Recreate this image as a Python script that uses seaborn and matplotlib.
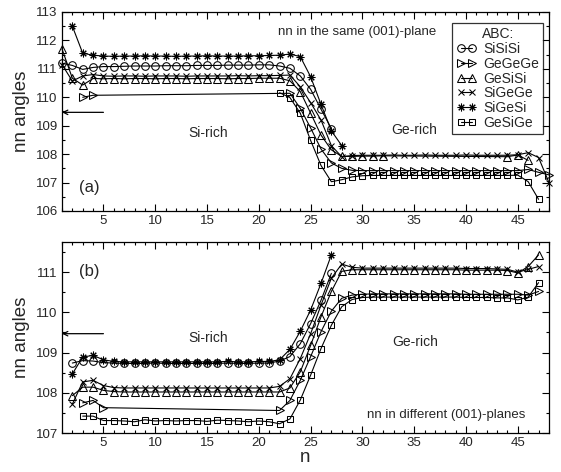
import matplotlib
matplotlib.use("Agg")
import matplotlib.pyplot as plt
from matplotlib.ticker import MultipleLocator
import seaborn as sns

# ---- panel (a): nn in the same (001)-plane ----
a_n_SiSiSi = list(range(1, 28))
a_SiSiSi = [111.20, 111.12, 110.98, 111.05, 111.08, 111.08, 111.09, 111.10, 111.10, 111.10,
            111.11, 111.11, 111.11, 111.12, 111.12, 111.12, 111.13, 111.13, 111.13, 111.14,
            111.14, 111.10, 111.02, 110.75, 110.28, 109.58, 108.90]

a_n_SiGeSi = list(range(2, 29))
a_SiGeSi = [112.50, 111.55, 111.48, 111.45, 111.44, 111.45, 111.45, 111.46, 111.45, 111.45,
            111.44, 111.45, 111.45, 111.46, 111.45, 111.45, 111.45, 111.46, 111.46, 111.47,
            111.48, 111.52, 111.43, 110.72, 109.75, 108.82, 108.30]

a_n_GeSiSi = list(range(1, 33)) + [44, 45, 46]
a_GeSiSi = [111.70, 110.67, 110.43, 110.66, 110.65, 110.66, 110.65, 110.66, 110.66, 110.65,
            110.66, 110.66, 110.65, 110.66, 110.66, 110.66, 110.65, 110.66, 110.66, 110.67,
            110.67, 110.67, 110.58, 110.20, 109.44, 108.67, 108.15, 107.92, 107.92, 107.93,
            107.93, 107.94, 107.91, 107.97, 107.78]

a_n_SiGeGe = list(range(1, 49))
a_SiGeGe = [111.15, 110.57, 110.75, 110.80, 110.75, 110.74, 110.75, 110.75, 110.74, 110.75,
            110.75, 110.75, 110.74, 110.75, 110.75, 110.75, 110.75, 110.76, 110.75, 110.76,
            110.76, 110.77, 110.78, 110.37, 109.81, 109.20, 108.30, 107.91, 107.95, 107.96,
            107.96, 107.96, 107.97, 107.96, 107.96, 107.97, 107.96, 107.96, 107.96, 107.97,
            107.96, 107.96, 107.96, 107.96, 107.98, 108.05, 107.88, 107.00]

a_n_GeGeGe = [3, 4] + list(range(23, 49))
a_GeGeGe = [110.00, 110.07, 110.14, 109.61, 108.92, 108.18, 107.69, 107.50, 107.43, 107.42,
            107.42, 107.42, 107.42, 107.42, 107.42, 107.42, 107.42, 107.42, 107.42, 107.42,
            107.42, 107.42, 107.42, 107.42, 107.42, 107.46, 107.36, 107.27]

a_n_GeSiGe = list(range(22, 48))
a_GeSiGe = [110.16, 109.99, 109.44, 108.48, 107.60, 107.03, 107.10, 107.20, 107.24, 107.25,
            107.25, 107.25, 107.25, 107.25, 107.25, 107.25, 107.25, 107.25, 107.25, 107.25,
            107.25, 107.25, 107.25, 107.26, 107.03, 106.41]

# ---- panel (b): nn in different (001)-planes ----
b_n_SiSiSi = list(range(2, 28))
b_SiSiSi = [108.74, 108.80, 108.79, 108.75, 108.74, 108.73, 108.73, 108.73, 108.74, 108.73,
            108.73, 108.73, 108.73, 108.73, 108.73, 108.74, 108.73, 108.73, 108.74, 108.74,
            108.79, 108.90, 109.22, 109.72, 110.30, 110.97]

b_n_SiGeSi = list(range(2, 28))
b_SiGeSi = [108.47, 108.89, 108.93, 108.82, 108.78, 108.77, 108.77, 108.77, 108.77, 108.77,
            108.77, 108.77, 108.77, 108.77, 108.77, 108.78, 108.77, 108.77, 108.78, 108.78,
            108.82, 109.08, 109.53, 110.06, 110.72, 111.43]

b_n_GeSiSi = list(range(2, 48))
b_GeSiSi = [107.93, 108.14, 108.14, 108.06, 108.03, 108.02, 108.02, 108.02, 108.02, 108.02,
            108.02, 108.02, 108.02, 108.02, 108.02, 108.02, 108.02, 108.02, 108.02, 108.02,
            108.02, 108.12, 108.52, 109.18, 109.89, 110.52, 111.02, 111.06, 111.06, 111.06,
            111.06, 111.06, 111.06, 111.06, 111.06, 111.06, 111.06, 111.06, 111.05, 111.05,
            111.05, 111.05, 111.04, 110.98, 111.14, 111.43]

b_n_SiGeGe = list(range(2, 48))
b_SiGeGe = [107.72, 108.27, 108.31, 108.18, 108.13, 108.12, 108.12, 108.12, 108.12, 108.12,
            108.12, 108.12, 108.12, 108.12, 108.12, 108.12, 108.12, 108.12, 108.12, 108.12,
            108.16, 108.35, 108.85, 109.47, 110.18, 110.85, 111.20, 111.12, 111.10, 111.10,
            111.10, 111.10, 111.10, 111.10, 111.10, 111.10, 111.10, 111.10, 111.09, 111.09,
            111.09, 111.08, 111.07, 111.00, 111.07, 111.14]

b_n_GeGeGe = [3, 4, 5] + list(range(22, 48))
b_GeGeGe = [107.75, 107.81, 107.63, 107.56, 107.81, 108.31, 108.90, 109.52, 110.03, 110.35,
            110.43, 110.45, 110.46, 110.46, 110.46, 110.46, 110.46, 110.46, 110.46, 110.46,
            110.46, 110.45, 110.45, 110.45, 110.45, 110.45, 110.45, 110.43, 110.52]

b_n_GeSiGe = list(range(3, 48))
b_GeSiGe = [107.42, 107.42, 107.31, 107.31, 107.30, 107.28, 107.33, 107.30, 107.31, 107.30,
            107.31, 107.31, 107.29, 107.32, 107.31, 107.30, 107.28, 107.30, 107.28, 107.23,
            107.35, 107.82, 108.44, 109.10, 109.68, 110.14, 110.32, 110.37, 110.38, 110.38,
            110.38, 110.38, 110.38, 110.38, 110.38, 110.38, 110.38, 110.37, 110.37, 110.37,
            110.36, 110.36, 110.31, 110.38, 110.74]

labels = ["SiSiSi", "GeGeGe", "GeSiSi", "SiGeGe", "SiGeSi", "GeSiGe"]
markers = {"SiSiSi": "o", "GeGeGe": ">", "GeSiSi": "^", "SiGeGe": "x",
           "SiGeSi": (8, 2, 0), "GeSiGe": "s"}
msizes = {"SiSiSi": 5.5, "GeGeGe": 5.2, "GeSiSi": 5.2, "SiGeGe": 4.5,
          "SiGeSi": 5.5, "GeSiGe": 4.6}

panel_a = {"SiSiSi": (a_n_SiSiSi, a_SiSiSi), "GeGeGe": (a_n_GeGeGe, a_GeGeGe),
           "GeSiSi": (a_n_GeSiSi, a_GeSiSi), "SiGeGe": (a_n_SiGeGe, a_SiGeGe),
           "SiGeSi": (a_n_SiGeSi, a_SiGeSi), "GeSiGe": (a_n_GeSiGe, a_GeSiGe)}
panel_b = {"SiSiSi": (b_n_SiSiSi, b_SiSiSi), "GeGeGe": (b_n_GeGeGe, b_GeGeGe),
           "GeSiSi": (b_n_GeSiSi, b_GeSiSi), "SiGeGe": (b_n_SiGeGe, b_SiGeGe),
           "SiGeSi": (b_n_SiGeSi, b_SiGeSi), "GeSiGe": (b_n_GeSiGe, b_GeSiGe)}

sns.set_theme(style="ticks")
plt.rcParams['font.family'] = ['Liberation Sans', 'DejaVu Sans']

fig = plt.figure(figsize=(5.61, 4.72), dpi=100)
ax_a = fig.add_axes([0.1105, 0.553, 0.868, 0.4216])
ax_b = fig.add_axes([0.1105, 0.0826, 0.868, 0.4047])


def draw_panel(ax, data):
    for name in labels:
        xs, ys = data[name]
        sns.lineplot(x=xs, y=ys, ax=ax, color="black", linewidth=0.8,
                     marker=markers[name], markersize=msizes[name],
                     markerfacecolor="none", markeredgecolor="black",
                     markeredgewidth=0.75, sort=False, estimator=None,
                     label=name, clip_on=False)
    ax.set_xlim(1, 48)
    ax.xaxis.set_major_locator(MultipleLocator(5))
    ax.xaxis.set_minor_locator(MultipleLocator(1))
    ax.yaxis.set_major_locator(MultipleLocator(1))
    ax.yaxis.set_minor_locator(MultipleLocator(0.5))
    ax.tick_params(which="both", direction="in", top=True, right=True,
                   labelsize=9.5, width=0.8, color="black", pad=3)
    ax.tick_params(which="major", length=5)
    ax.tick_params(which="minor", length=2.5)
    for sp in ax.spines.values():
        sp.set_linewidth(0.9)
        sp.set_color("black")
    ax.set_ylabel("nn angles", fontsize=13.5, labelpad=4)
    # ideal tetrahedral angle
    ax.annotate("", xy=(1, 109.47), xytext=(5, 109.47),
                arrowprops=dict(arrowstyle="->", color="black", lw=0.9,
                                shrinkA=0, shrinkB=0, mutation_scale=8))


draw_panel(ax_a, panel_a)
ax_a.set_ylim(106, 113)
ax_a.set_xlabel("")
leg = ax_a.legend(title="ABC:", loc="upper right", bbox_to_anchor=(0.988, 0.943),
                  fontsize=10, title_fontsize=10, numpoints=2, handlelength=1.4,
                  handletextpad=0.5, labelspacing=0.05, borderpad=0.3,
                  borderaxespad=0, frameon=True, fancybox=False, edgecolor="black")
leg.get_frame().set_linewidth(0.9)
ax_a.text(0.768, 0.901, "nn in the same (001)-plane", transform=ax_a.transAxes,
          ha="right", va="center", fontsize=9.5)
ax_a.text(0.301, 0.393, "Si-rich", transform=ax_a.transAxes,
          ha="center", va="center", fontsize=10)
ax_a.text(0.771, 0.405, "Ge-rich", transform=ax_a.transAxes,
          ha="right", va="center", fontsize=10)
ax_a.text(0.035, 0.116, "(a)", transform=ax_a.transAxes,
          ha="left", va="center", fontsize=12)

draw_panel(ax_b, panel_b)
ax_b.set_ylim(107, 111.75)
ax_b.legend().remove()
ax_b.set_xlabel("n", fontsize=13.5, labelpad=0)
ax_b.text(0.301, 0.496, "Si-rich", transform=ax_b.transAxes,
          ha="center", va="center", fontsize=10)
ax_b.text(0.772, 0.478, "Ge-rich", transform=ax_b.transAxes,
          ha="right", va="center", fontsize=10)
ax_b.text(0.951, 0.094, "nn in different (001)-planes", transform=ax_b.transAxes,
          ha="right", va="center", fontsize=9.5)
ax_b.text(0.035, 0.845, "(b)", transform=ax_b.transAxes,
          ha="left", va="center", fontsize=12)

fig.savefig("out.png", dpi=100)
